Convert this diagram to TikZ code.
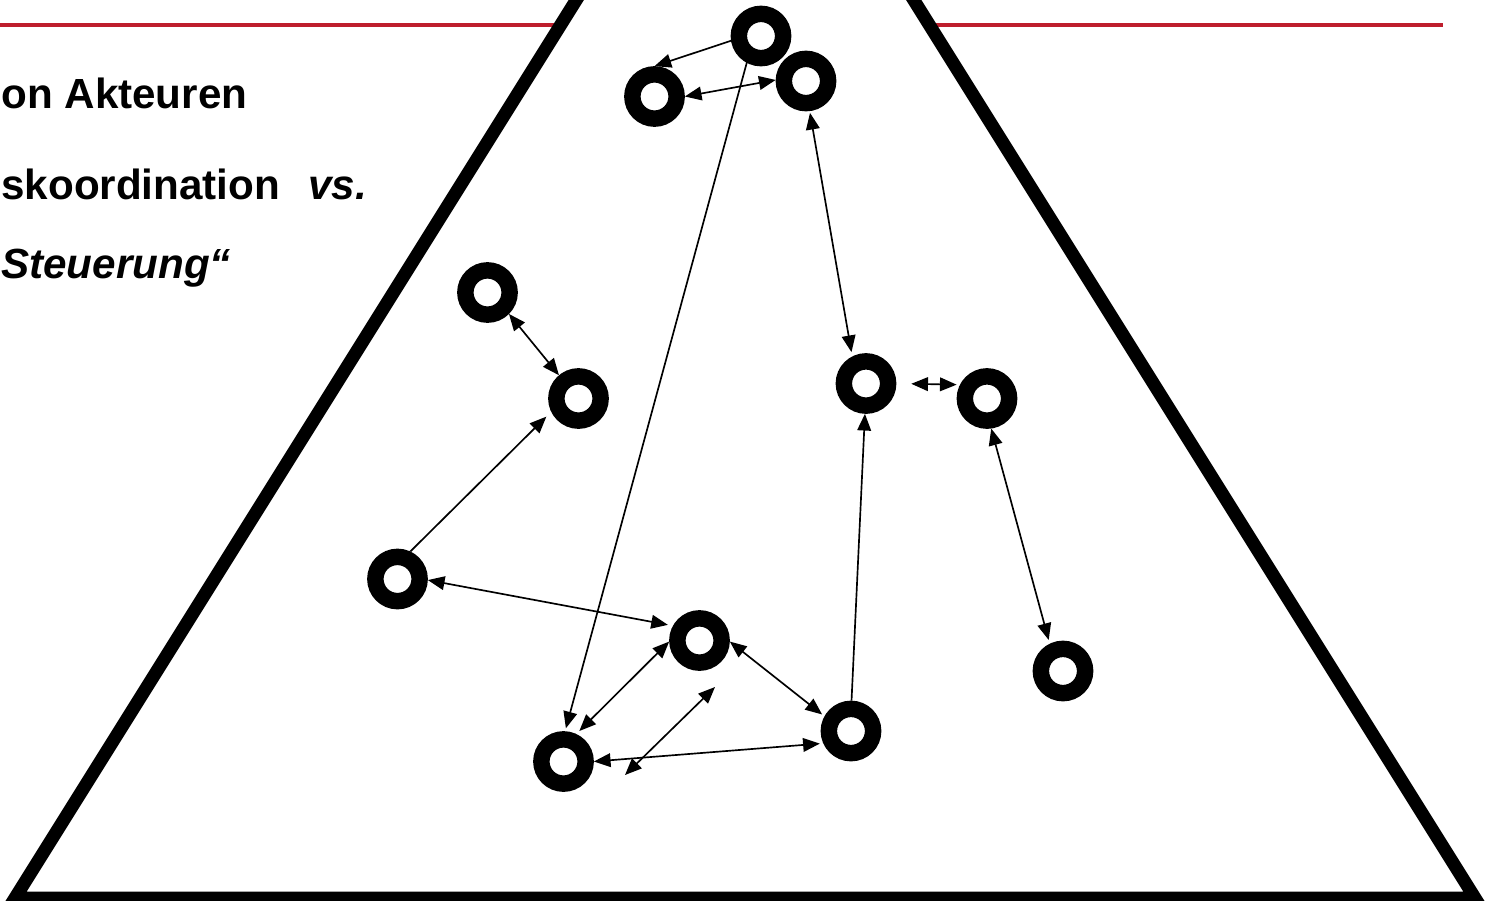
\documentclass[tikz,border=0pt]{standalone}
\usepackage{fontspec}
\setmainfont{Liberation Sans}
\usetikzlibrary{arrows.meta}
\definecolor{redline}{RGB}{190,30,45}
\tikzset{
  ring/.style={circle, draw=black, line width=9.35pt, minimum size=25.2pt, inner sep=0pt},
  arr/.style={line width=0.95pt, -{Triangle[length=9.5pt,width=7.8pt]}},
  biarr/.style={line width=0.95pt, {Triangle[length=9.5pt,width=7.8pt]}-{Triangle[length=9.5pt,width=7.8pt]}},
  headline/.style={anchor=base west, inner sep=0pt, font=\bfseries\fontsize{24pt}{29pt}\selectfont},
  frame/.style={draw=black, fill=white, line width=7.4pt, line join=miter}
}
\begin{document}
\begin{tikzpicture}[x=0.02cm,y=-0.02cm]
\useasboundingbox (0,0) rectangle (1491,900);
\clip (0,0) rectangle (1491,900);
% red rule
\draw[redline, line width=2.55pt] (0,25) -- (1443,25);
% pyramid
\draw[frame] (745,-270) -- (15,898) -- (1475,898) -- cycle;
% text
\node[headline] (t1) at (1,108) {on Akteuren};
\node[headline] (t2) at (1,199) {skoordination\hspace{16pt}\textit{vs.}};
\node[headline] (t3) at (1,278) {\textit{Steuerung“}};
% actors
\node[ring] (n1) at (761,36) {};
\node[ring] (n2) at (654.5,96.5) {};
\node[ring] (n3) at (806,81) {};
\node[ring] (n4) at (487.5,292.5) {};
\node[ring] (n5) at (578.5,398.5) {};
\node[ring] (n6) at (866,383.5) {};
\node[ring] (n7) at (987,398.5) {};
\node[ring] (n8) at (397.5,579) {};
\node[ring] (n9) at (699.5,640.5) {};
\node[ring] (n10) at (1063,671) {};
\node[ring] (n11) at (563.5,761.5) {};
\node[ring] (n12) at (851,731) {};
\coordinate (fa) at (715,687);
\coordinate (fb) at (625,775);
% connectors
\draw[arr] (n1.189) -- (n2.90);
\draw[biarr] (n2.0) -- (n3.178);
\draw[arr, shorten <=-2.3pt, shorten >=1.7pt] (n1.242) -- (n11.87);
\draw[biarr, shorten <=1pt, shorten >=2.5pt] (n3.277) -- (n6.117);
\draw[biarr] (n4.315) -- (n5.130);
\draw[arr, shorten >=3.9pt] (n8.65) -- (n5.206);
\draw[biarr, shorten >=2.9pt] (n8.358) -- (n9.151);
\draw[biarr, shorten >=2.4pt] (n9.182) -- (n11.65);
\draw[biarr] (fa) -- (fb);
\draw[biarr, shorten >=1.7pt] (n9.358) -- (n12.151);
\draw[biarr, shorten >=2pt] (n11.0) -- (n12.204);
\draw[arr] (n12.89) -- (n6.268);
\draw[biarr, shorten <=8.5pt, shorten >=1.9pt] (n6.0) -- (n7.153);
\draw[biarr, shorten >=2.2pt] (n7.278) -- (n10.116);
\end{tikzpicture}
\end{document}
